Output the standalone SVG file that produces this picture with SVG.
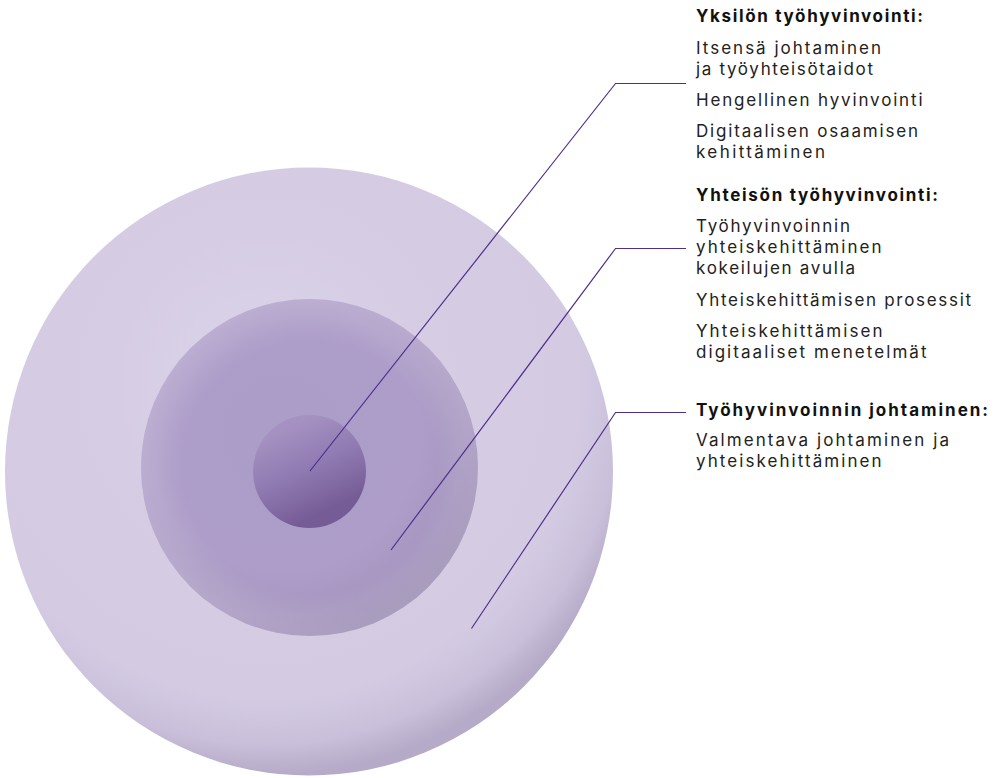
<svg xmlns="http://www.w3.org/2000/svg" width="998" height="778" viewBox="0 0 998 778">
  <defs>
    <radialGradient id="gOuter" cx="0.43" cy="0.36" r="0.64">
      <stop offset="0" stop-color="#dbd4e9"/>
      <stop offset="0.4" stop-color="#d6cde5"/>
      <stop offset="0.8" stop-color="#d4cbe3"/>
      <stop offset="0.92" stop-color="#c9bfda"/>
      <stop offset="1" stop-color="#b5aac7"/>
    </radialGradient>
    <radialGradient id="gMid" cx="0.42" cy="0.4" r="0.66">
      <stop offset="0" stop-color="#ac9cc8"/>
      <stop offset="0.62" stop-color="#ad9dc8"/>
      <stop offset="0.82" stop-color="#a595bf"/>
      <stop offset="1" stop-color="#9083a8"/>
    </radialGradient>
    <radialGradient id="gMidRim" cx="0.5" cy="0.5" r="0.5">
      <stop offset="0" stop-color="#ffffff" stop-opacity="0"/>
      <stop offset="0.75" stop-color="#ffffff" stop-opacity="0"/>
      <stop offset="1" stop-color="#ffffff" stop-opacity="0.18"/>
    </radialGradient>
    <linearGradient id="gInner" x1="0.3" y1="0.1" x2="0.65" y2="0.85">
      <stop offset="0" stop-color="#a692c2"/>
      <stop offset="0.5" stop-color="#907ab2"/>
      <stop offset="1" stop-color="#765c96"/>
    </linearGradient>
  </defs>
  <style>
    .lead { fill: none; stroke: #4e2f8e; stroke-width: 1.2; }
    .h { font-family: Inter, "Open Sans", sans-serif; font-size: 17px; font-weight: bold; fill: #111111; }
    .t { font-family: Inter, "Open Sans", sans-serif; font-size: 17px; fill: #222222; }
  </style>

  <g id="outer-circle">
    <circle cx="309" cy="471.5" r="304" fill="url(#gOuter)"/>
  </g>
  <g id="middle-circle">
    <circle cx="309.5" cy="467.5" r="168.5" fill="url(#gMid)"/>
    <circle cx="309.5" cy="467.5" r="168.5" fill="url(#gMidRim)"/>
  </g>
  <g id="inner-circle">
    <circle cx="309.5" cy="471.5" r="56.5" fill="url(#gInner)"/>
  </g>

  <g id="connectors">
    <polyline class="lead" points="310,471 615.5,83.5 686,83.5"/>
    <polyline class="lead" points="391,550 615.5,248.5 686,248.5"/>
    <polyline class="lead" points="471.5,628.5 615.5,412.5 686,412.5"/>
  </g>

  <g id="label-yksilo">
    <text class="h" x="696" y="22" textLength="227" lengthAdjust="spacing">Yksilön työhyvinvointi:</text>
    <text class="t" x="696" y="53.5" textLength="185" lengthAdjust="spacing">Itsensä johtaminen</text>
    <text class="t" x="696" y="74.5" textLength="177" lengthAdjust="spacing">ja työyhteisötaidot</text>
    <text class="t" x="696" y="106" textLength="226.5" lengthAdjust="spacing">Hengellinen hyvinvointi</text>
    <text class="t" x="696" y="137" textLength="222" lengthAdjust="spacing">Digitaalisen osaamisen</text>
    <text class="t" x="696" y="158" textLength="129" lengthAdjust="spacing">kehittäminen</text>
  </g>

  <g id="label-yhteiso">
    <text class="h" x="696" y="200.5" textLength="242" lengthAdjust="spacing">Yhteisön työhyvinvointi:</text>
    <text class="t" x="696" y="231.5" textLength="154" lengthAdjust="spacing">Työhyvinvoinnin</text>
    <text class="t" x="696" y="252.5" textLength="185.5" lengthAdjust="spacing">yhteiskehittäminen</text>
    <text class="t" x="696" y="273.5" textLength="159" lengthAdjust="spacing">kokeilujen avulla</text>
    <text class="t" x="696" y="305.5" textLength="275" lengthAdjust="spacing">Yhteiskehittämisen prosessit</text>
    <text class="t" x="696" y="336.5" textLength="186.5" lengthAdjust="spacing">Yhteiskehittämisen</text>
    <text class="t" x="696" y="357.5" textLength="230.5" lengthAdjust="spacing">digitaaliset menetelmät</text>
  </g>

  <g id="label-johtaminen">
    <text class="h" x="696" y="415.5" textLength="292" lengthAdjust="spacing">Työhyvinvoinnin johtaminen:</text>
    <text class="t" x="696" y="446" textLength="253" lengthAdjust="spacing">Valmentava johtaminen ja</text>
    <text class="t" x="696" y="467" textLength="185.5" lengthAdjust="spacing">yhteiskehittäminen</text>
  </g>
</svg>
